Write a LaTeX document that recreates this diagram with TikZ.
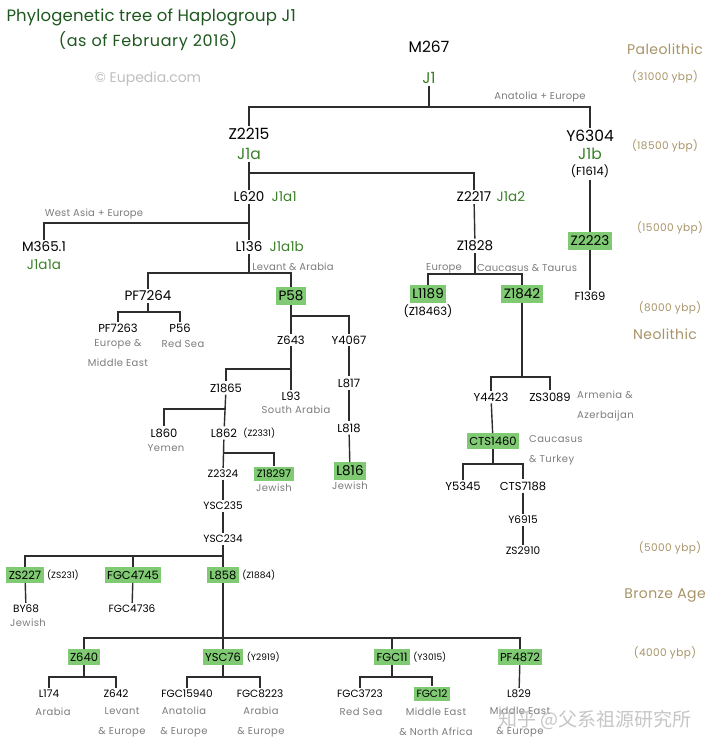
\documentclass[tikz,border=0pt]{standalone}
\usepackage{fontspec}
\setmainfont{Poppins}
\newfontfamily\cjk{Noto Sans CJK SC}
\usetikzlibrary{positioning}

\definecolor{treegreen}{RGB}{58,128,40}
\definecolor{titlegreen}{RGB}{30,88,30}
\definecolor{boxgreen}{RGB}{128,202,115}
\definecolor{eratan}{RGB}{168,148,104}
\definecolor{regiongray}{RGB}{125,125,125}
\definecolor{linegray}{RGB}{45,45,45}

\tikzset{
  hgbig/.style={font=\fontsize{15.5}{16}\selectfont, inner sep=2pt},
  hgbiggreen/.style={hgbig, text=treegreen},
  hgmid/.style={font=\fontsize{13.5}{14}\selectfont, inner sep=2pt},
  hgmidgreen/.style={hgmid, text=treegreen},
  hgsmall/.style={font=\fontsize{11.5}{12}\selectfont, inner sep=2pt},
  hgsmaller/.style={font=\fontsize{10.5}{11}\selectfont, inner sep=2pt},
  hgtiny/.style={font=\fontsize{9}{9}\selectfont, inner sep=1pt},
  snpbox/.style={fill=boxgreen, inner xsep=2.5pt, inner ysep=3.5pt},
  region/.style={font=\fontsize{10}{20}\selectfont\addfontfeatures{LetterSpace=4}, text=regiongray, inner sep=1pt, align=center},
  route/.style={font=\fontsize{10}{10}\selectfont\addfontfeatures{LetterSpace=2}, text=regiongray, inner sep=1pt},
  era/.style={font=\fontsize{14}{15}\selectfont\addfontfeatures{LetterSpace=3}, text=eratan},
  ybp/.style={font=\fontsize{10.5}{11}\selectfont\addfontfeatures{LetterSpace=4}, text=eratan},
  branch/.style={draw=linegray, line width=1.4pt},
}

\begin{document}
\begin{tikzpicture}[x=1pt, y=-1pt]
                \fill[white] (0,0) rectangle (720,751);
                \useasboundingbox (0,0) rectangle (720,751);

                % Title
                \node[anchor=west, text=titlegreen, font=\fontsize{16.5}{17}\selectfont\addfontfeatures{LetterSpace=1}] (ttl) at (3,17) {Phylogenetic tree of Haplogroup J1};
                \node[text=titlegreen, font=\fontsize{16}{17}\selectfont\addfontfeatures{LetterSpace=4}] (ttldate) at (148,41) {(as of February 2016)};
                \node[text=black!25, font=\fontsize{14}{15}\selectfont] (eupedia) at (148,79) {© Eupedia.com};

                % Eras
                \node[era] (paleo) at (665,49) {Paleolithic};
                \node[ybp] (y31000) at (665,77) {(31000 ybp)};
                \node[ybp] (y18500) at (665,146) {(18500 ybp)};
                \node[ybp] (y15000) at (670,228) {(15000 ybp)};
                \node[ybp] (y8000) at (670,308) {(8000 ybp)};
                \node[era] (neo) at (665,334) {Neolithic};
                \node[ybp] (y5000) at (670,548) {(5000 ybp)};
                \node[era] (bronze) at (665,596) {Bronze Age};
                \node[ybp] (y4000) at (665,653) {(4000 ybp)};

                % Root and main branches
                \node[hgbig] (M267) at (429,47) {M267};
                \node[hgbiggreen] (J1) at (429,78) {J1};
                \node[hgbig] (Z2215) at (249,134) {Z2215};
                \node[hgbiggreen] (J1a) at (249,154) {J1a};
                \node[hgbig] (Y6304) at (590,136) {Y6304};
                \node[hgbiggreen] (J1b) at (590,154) {J1b};
                \node[hgsmall] (F1614) at (590,171) {(F1614)};
                \node[hgmid, snpbox] (Z2223) at (590,241) {Z2223};
                \node[hgsmall] (F1369) at (590,296) {F1369};

                % J1a
                \node[hgmid] (L620) at (249,197) {L620};
                \node[hgmidgreen, right=3pt of L620] (J1a1) {J1a1};
                \node[hgmid] (Z2217) at (474,197) {Z2217};
                \node[hgmidgreen, right=1pt of Z2217] (J1a2) {J1a2};
                \node[hgmid] (M3651) at (44,247) {M365.1};
                \node[hgmidgreen] (J1a1a) at (44,265) {J1a1a};
                \node[hgmid] (L136) at (249,247) {L136};
                \node[hgmidgreen, right=3pt of L136] (J1a1b) {J1a1b};

                % J1a2
                \node[hgmid] (Z1828) at (475,246) {Z1828};
                \node[hgmid, snpbox] (L1189) at (428,294) {L1189};
                \node[hgsmall] (Z18463) at (428,311) {(Z18463)};
                \node[hgmid, snpbox] (Z1842) at (522,294) {Z1842};
                \node[hgsmall] (Y4423) at (491,397) {Y4423};
                \node[hgsmall] (ZS3089) at (550,397) {ZS3089};
                \node[region, anchor=west, align=left] (armenia) at (576,406) {Armenia \&\\Azerbaijan};
                \node[hgsmall, snpbox] (CTS1460) at (493,441) {CTS1460};
                \node[region, anchor=west, align=left] (caucasus) at (528,450) {Caucasus\\\& Turkey};
                \node[hgsmall] (Y5345) at (463,486) {Y5345};
                \node[hgsmall] (CTS7188) at (523,486) {CTS7188};
                \node[hgsmaller] (Y6915) at (523,520) {Y6915};
                \node[hgsmaller] (ZS2910) at (523,551) {ZS2910};

                % L136
                \node[hgmid] (PF7264) at (148,296) {PF7264};
                \node[hgmid, snpbox] (P58) at (291,296) {P58};
                \node[hgsmall] (PF7263) at (118,328) {PF7263};
                \node[region] (eume) at (118,353) {Europe \&\\Middle East};
                \node[hgsmall] (P56) at (180,328) {P56};
                \node[region] (redsea1) at (183,344) {Red Sea};
                \node[hgsmall] (Z643) at (291,340) {Z643};
                \node[hgsmall] (Y4067) at (349,340) {Y4067};
                \node[hgsmall] (Z1865) at (226,388) {Z1865};
                \node[hgsmall] (L93) at (291,396) {L93};
                \node[region] (sarabia) at (296,410) {South Arabia};
                \node[hgsmall] (L817) at (349,383) {L817};
                \node[hgsmall] (L818) at (349,428) {L818};
                \node[hgmid, snpbox] (L816) at (350,471) {L816};
                \node[region] (jewish1) at (350,486) {Jewish};
                \node[hgsmall] (L860) at (164,433) {L860};
                \node[region] (yemen) at (166,448) {Yemen};
                \node[hgsmall] (L862) at (224,433) {L862};
                \node[hgtiny, right=3pt of L862] (Z2331) {(Z2331)};
                \node[hgsmaller] (Z2324) at (223,474) {Z2324};
                \node[hgsmaller, snpbox] (Z18297) at (274,474) {Z18297};
                \node[region] (jewish2) at (274,488) {Jewish};
                \node[hgsmaller] (YSC235) at (223,506) {YSC235};
                \node[hgsmaller] (YSC234) at (223,539) {YSC234};

                % YSC234
                \node[hgsmall, snpbox] (ZS227) at (25,575) {ZS227};
                \node[hgtiny, right=2pt of ZS227] (ZS231) {(ZS231)};
                \node[hgsmall, snpbox] (FGC4745) at (133,575) {FGC4745};
                \node[hgsmall, snpbox] (L858) at (223,575) {L858};
                \node[hgtiny, right=2pt of L858] (Z1884) {(Z1884)};
                \node[hgsmaller] (BY68) at (26,609) {BY68};
                \node[region] (jewish3) at (28,623) {Jewish};
                \node[hgsmaller] (FGC4736) at (132,609) {FGC4736};

                % L858
                \node[hgsmall, snpbox] (Z640) at (84,657) {Z640};
                \node[hgsmall, snpbox] (YSC76) at (223,657) {YSC76};
                \node[hgtiny, right=2pt of YSC76] (Y2919) {(Y2919)};
                \node[hgsmall, snpbox] (FGC11) at (392,657) {FGC11};
                \node[hgtiny, right=2pt of FGC11] (Y3015) {(Y3015)};
                \node[hgsmall, snpbox] (PF4872) at (520,657) {PF4872};
                \node[hgsmaller] (L174) at (49,694) {L174};
                \node[region] (arabia1) at (53,712) {Arabia};
                \node[hgsmaller] (Z642) at (116,694) {Z642};
                \node[region] (leveu) at (122,722) {Levant\\\& Europe};
                \node[hgsmaller] (FGC15940) at (187,694) {FGC15940};
                \node[region] (anaeu) at (184,722) {Anatolia\\\& Europe};
                \node[hgsmaller] (FGC8223) at (260,694) {FGC8223};
                \node[region] (araeu) at (261,722) {Arabia\\\& Europe};
                \node[hgsmaller] (FGC3723) at (360,694) {FGC3723};
                \node[region] (redsea2) at (361,712) {Red Sea};
                \node[hgsmaller, snpbox] (FGC12) at (432,694) {FGC12};
                \node[region] (menaf) at (436,722) {Middle East\\\& North Africa};
                \node[hgsmaller] (L829) at (519,694) {L829};
                \node[region] (meeu) at (520,722) {Middle East\\\& Europe};

                % Migration labels
                \node[route] (anatolia) at (540,97) {Anatolia + Europe};
                \node[route] (westasia) at (94,214) {West Asia + Europe};
                \node[route] (levant) at (293,267) {Levant \& Arabia};
                \node[route] (europe) at (444,268) {Europe};
                \node[route] (taurus) at (527,268) {Caucasus \& Taurus};

                % Branch points
                \coordinate (bJ1) at (429,107);
                \coordinate (bJ1a) at (249,173);
                \coordinate (bL620) at (249,223);
                \coordinate (bL136) at (249,273);
                \coordinate (bPF7264) at (148,312);
                \coordinate (bP58) at (291,316);
                \coordinate (bZ643) at (291,369);
                \coordinate (bZ1865) at (226,409);
                \coordinate (bL862) at (224,453);
                \coordinate (bYSC234) at (223,556);
                \coordinate (bL858) at (223,638);
                \coordinate (bZ640) at (84,677);
                \coordinate (bYSC76) at (223,677);
                \coordinate (bFGC11) at (392,677);
                \coordinate (bZ1828) at (475,274);
                \coordinate (bZ1842) at (522,377);
                \coordinate (bCTS1460) at (493,464);

                % Branches
                \draw[branch] (J1) -- (bJ1);
                \draw[branch] (Z2215) |- (bJ1) -| (Y6304);
                \draw[branch] (F1614) -- (Z2223);
                \draw[branch] (Z2223) -- (F1369);
                \draw[branch] (J1a) -- (L620);
                \draw[branch] (bJ1a) -| (Z2217);
                \draw[branch] (L620) -- (L136);
                \draw[branch] (bL620) -| (M3651);
                \draw[branch] (L136) -- (bL136);
                \draw[branch] (PF7264) |- (bL136) -| (P58);
                \draw[branch] (PF7264) -- (bPF7264);
                \draw[branch] (PF7263) |- (bPF7264) -| (P56);
                \draw[branch] (P58) -- (Z643);
                \draw[branch] (bP58) -| (Y4067);
                \draw[branch] (Z643) -- (L93);
                \draw[branch] (bZ643) -| (Z1865);
                \draw[branch] (Y4067) -- (L817);
                \draw[branch] (L817) -- (L818);
                \draw[branch] (L818) -- (L816);
                \draw[branch] (Z1865) -- (L862);
                \draw[branch] (bZ1865) -| (L860);
                \draw[branch] (L862) -- (Z2324);
                \draw[branch] (bL862) -| (Z18297);
                \draw[branch] (Z2324) -- (YSC235);
                \draw[branch] (YSC235) -- (YSC234);
                \draw[branch] (YSC234) -- (L858);
                \draw[branch] (ZS227) |- (bYSC234);
                \draw[branch] (FGC4745) -- (FGC4745 |- bYSC234);
                \draw[branch] (ZS227) -- (BY68);
                \draw[branch] (FGC4745) -- (FGC4736);
                \draw[branch] (L858) -- (YSC76);
                \draw[branch] (Z640) |- (bL858) -| (PF4872);
                \draw[branch] (FGC11) -- (FGC11 |- bL858);
                \draw[branch] (Z640) -- (bZ640);
                \draw[branch] (L174) |- (bZ640) -| (Z642);
                \draw[branch] (YSC76) -- (bYSC76);
                \draw[branch] (FGC15940) |- (bYSC76) -| (FGC8223);
                \draw[branch] (FGC11) -- (bFGC11);
                \draw[branch] (FGC3723) |- (bFGC11) -| (FGC12);
                \draw[branch] (PF4872) -- (L829);
                \draw[branch] (Z2217) -- (Z1828);
                \draw[branch] (Z1828) -- (bZ1828);
                \draw[branch] (L1189) |- (bZ1828) -| (Z1842);
                \draw[branch] (Z1842) -- (bZ1842);
                \draw[branch] (Y4423) |- (bZ1842) -| (ZS3089);
                \draw[branch] (Y4423) -- (CTS1460);
                \draw[branch] (CTS1460) -- (bCTS1460);
                \draw[branch] (Y5345) |- (bCTS1460) -| (CTS7188);
                \draw[branch] (CTS7188) -- (Y6915);
                \draw[branch] (Y6915) -- (ZS2910);

                % Watermark
                \node[text=black!28, opacity=0.8, font=\cjk\fontsize{19}{20}\selectfont] (zhihu) at (595,720) {知乎 @父系祖源研究所};
            \end{tikzpicture}
\end{document}
